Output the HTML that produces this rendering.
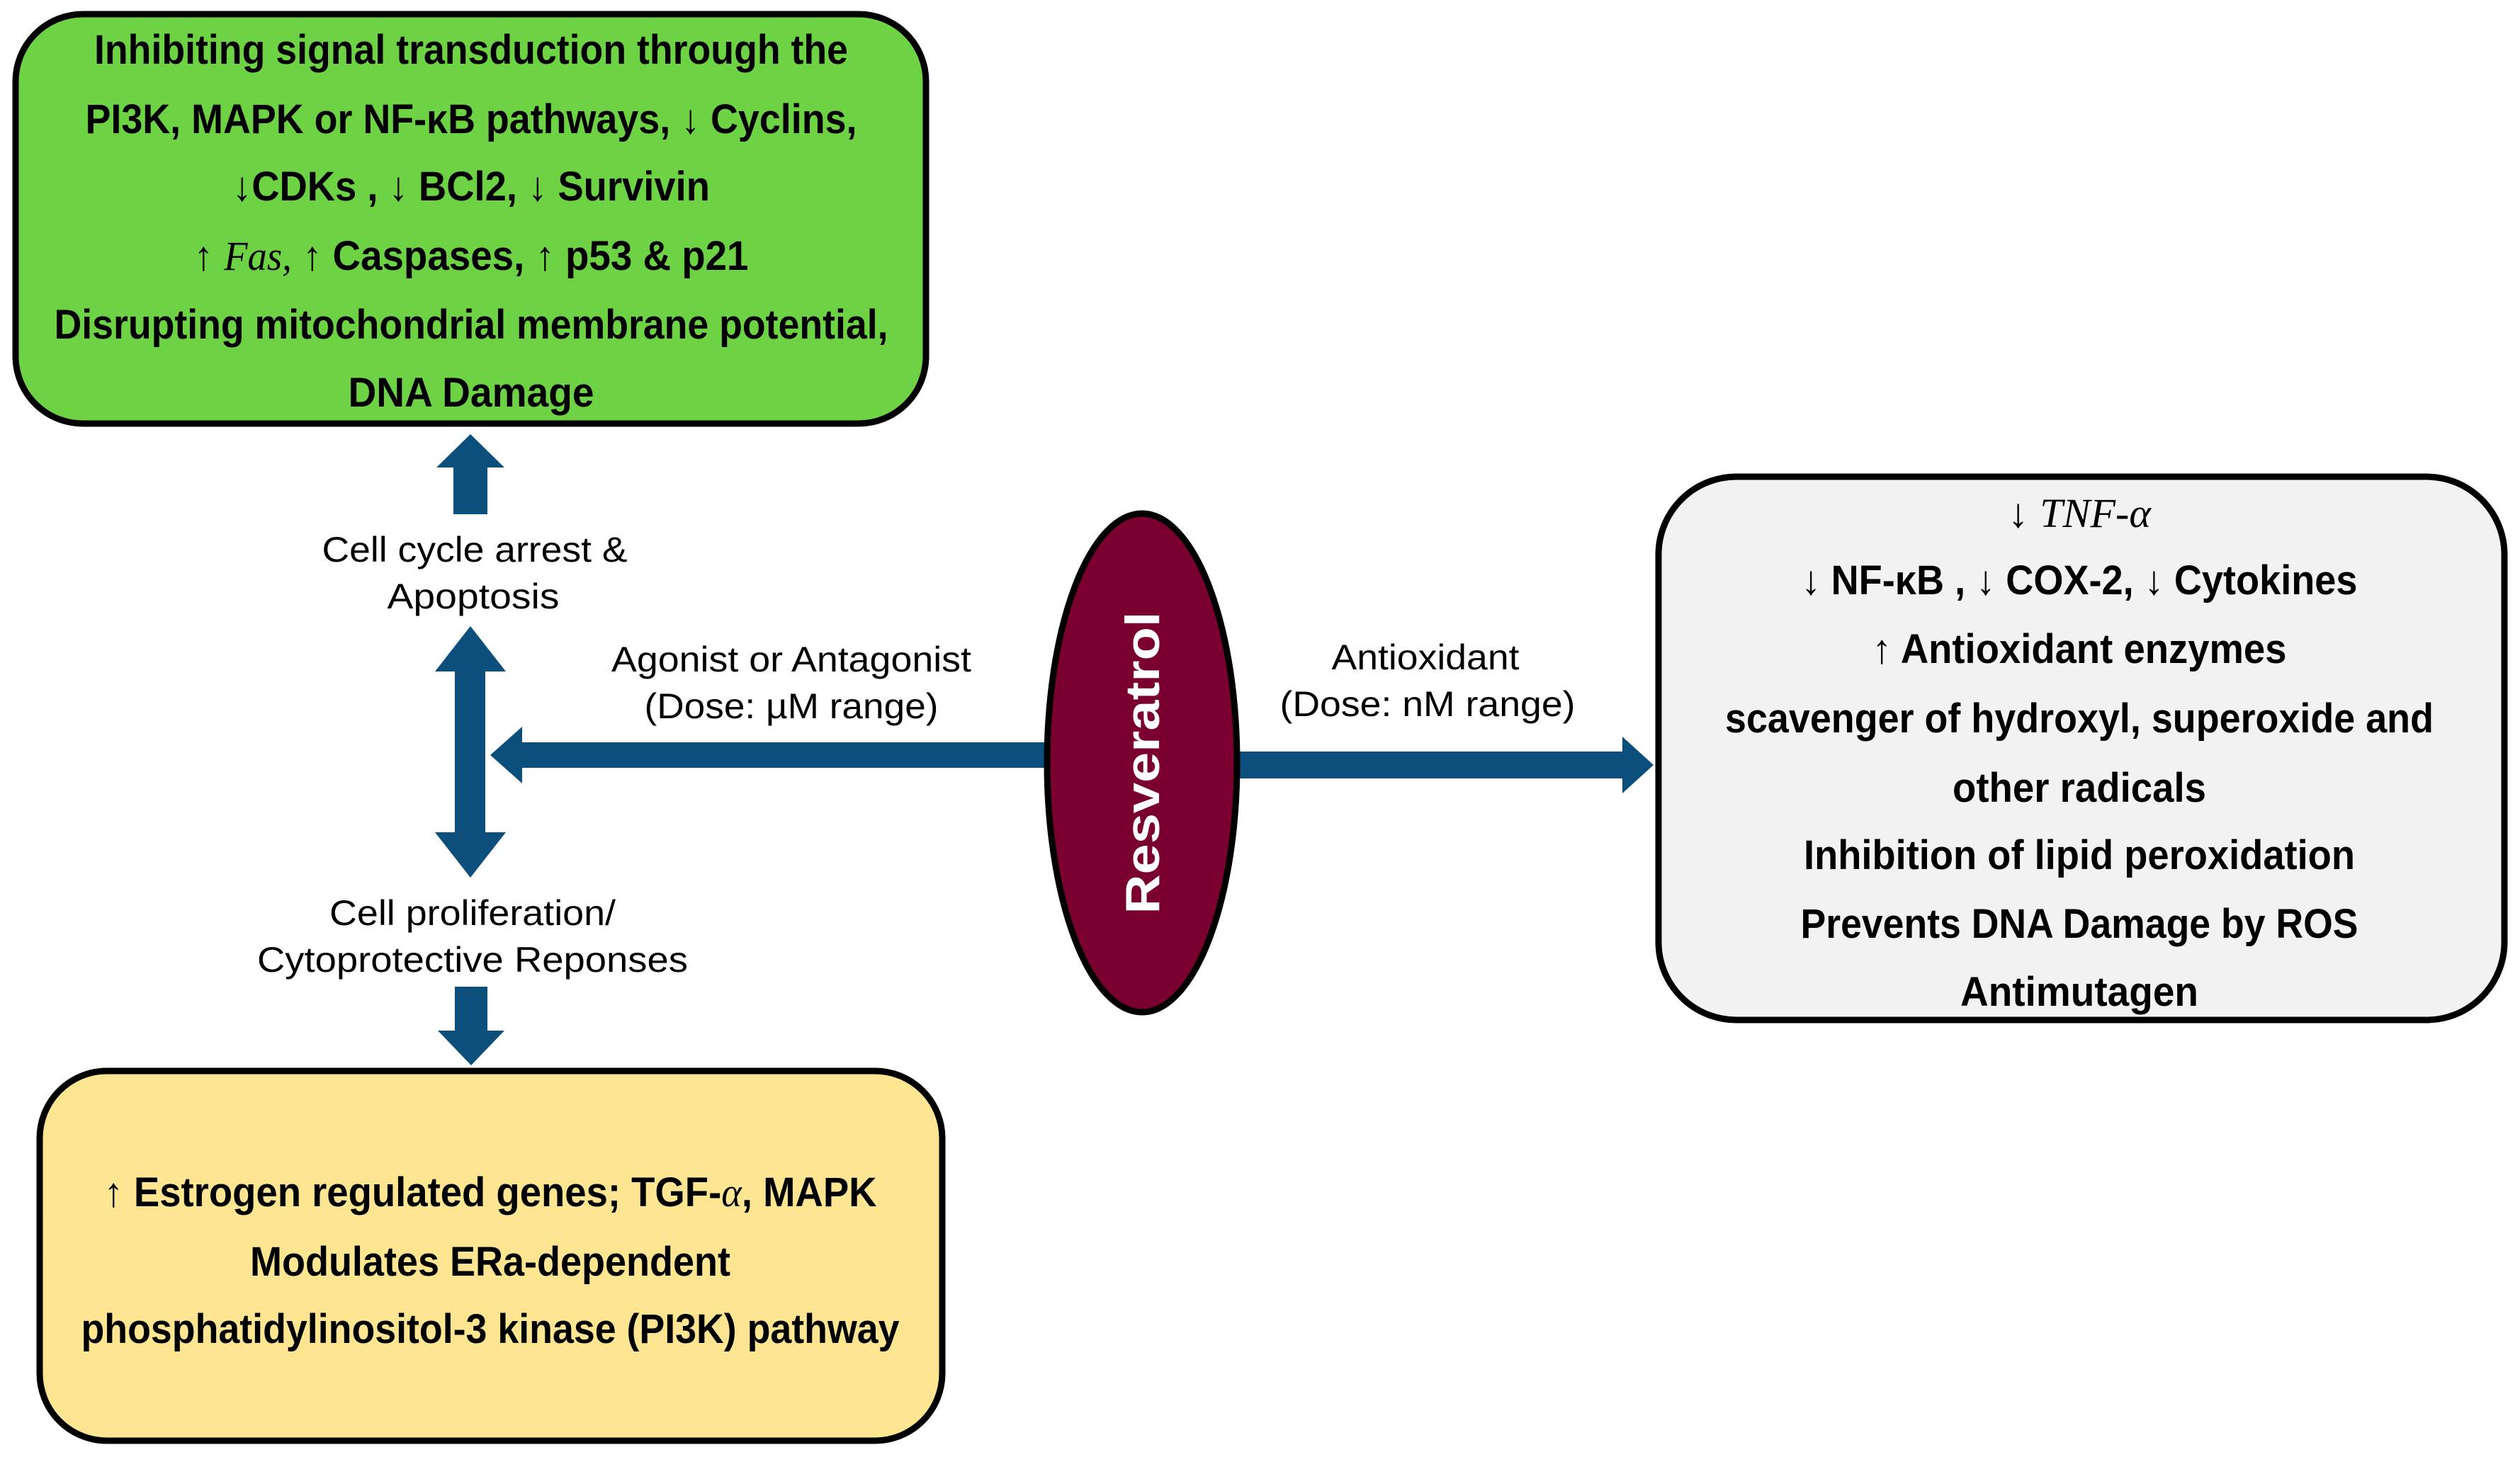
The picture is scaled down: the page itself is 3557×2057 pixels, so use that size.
<!DOCTYPE html>
<html><head><meta charset="utf-8"><style>html,body{margin:0;padding:0;background:#fff}svg{display:block}</style></head>
<body>
<svg width="3557" height="2057" viewBox="0 0 3557 2057" xmlns="http://www.w3.org/2000/svg" font-family="Liberation Sans, sans-serif">
<rect x="22" y="20" width="1285" height="578" rx="95" fill="#6dd344" stroke="#000" stroke-width="9"/>
<rect x="56" y="1512" width="1274" height="522" rx="95" fill="#fde592" stroke="#000" stroke-width="9"/>
<rect x="2341" y="673" width="1194" height="767" rx="110" fill="#f2f2f2" stroke="#000" stroke-width="9"/>
<g fill="#0d4f7c">
<polygon points="640,726 688,726 688,660 712,660 664,613 616,660 640,660"/>
<polygon points="664,884 714,948 685,948 685,1175 714,1175 664,1239 614,1175 642,1175 642,948 614,948"/>
<polygon points="642,1393 688,1393 688,1455 712,1455 665,1504 618,1455 642,1455"/>
<polygon points="692,1066 737,1026 737,1048 1485,1048 1485,1084 737,1084 737,1106"/>
<polygon points="1740,1061 2290,1061 2290,1040 2334,1080 2290,1120 2290,1099 1740,1099"/>
</g>
<ellipse cx="1612" cy="1077" rx="134" ry="352" fill="#7a0030" stroke="#000" stroke-width="9"/>
<text transform="translate(1636,1077) rotate(-90)" text-anchor="middle" font-weight="bold" font-size="68" fill="#fff" textLength="427" lengthAdjust="spacingAndGlyphs">Resveratrol</text>
<g font-weight="bold" font-size="58" text-anchor="middle" fill="#000">
<text x="665" y="90" textLength="1064" lengthAdjust="spacingAndGlyphs">Inhibiting signal transduction through the</text>
<text x="665" y="188" textLength="1089" lengthAdjust="spacingAndGlyphs">PI3K, MAPK or NF-κB pathways, ↓ Cyclins,</text>
<text x="665" y="283" textLength="674" lengthAdjust="spacingAndGlyphs">↓CDKs , ↓ BCl2, ↓ Survivin</text>
<text x="665" y="381" textLength="783" lengthAdjust="spacingAndGlyphs">↑ <tspan font-family="Liberation Serif, serif" font-style="italic" font-weight="normal">Fas,</tspan> ↑ Caspases, ↑ p53 &amp; p21</text>
<text x="665" y="478" textLength="1177" lengthAdjust="spacingAndGlyphs">Disrupting mitochondrial membrane potential,</text>
<text x="665" y="574" textLength="347" lengthAdjust="spacingAndGlyphs">DNA Damage</text>

<text x="2935" y="744" textLength="202" lengthAdjust="spacingAndGlyphs">↓ <tspan font-family="Liberation Serif, serif" font-style="italic" font-weight="normal">TNF-α</tspan></text>
<text x="2935" y="839" textLength="785" lengthAdjust="spacingAndGlyphs">↓ NF-κB , ↓ COX-2, ↓ Cytokines</text>
<text x="2935" y="936" textLength="585" lengthAdjust="spacingAndGlyphs">↑ Antioxidant enzymes</text>
<text x="2935" y="1034" textLength="1000" lengthAdjust="spacingAndGlyphs">scavenger of hydroxyl, superoxide and</text>
<text x="2935" y="1132" textLength="358" lengthAdjust="spacingAndGlyphs">other radicals</text>
<text x="2935" y="1227" textLength="778" lengthAdjust="spacingAndGlyphs">Inhibition of lipid peroxidation</text>
<text x="2935" y="1324" textLength="787" lengthAdjust="spacingAndGlyphs">Prevents DNA Damage by ROS</text>
<text x="2935" y="1420" textLength="336" lengthAdjust="spacingAndGlyphs">Antimutagen</text>

<text x="692" y="1703" textLength="1091" lengthAdjust="spacingAndGlyphs">↑ Estrogen regulated genes; TGF-<tspan font-family="Liberation Serif, serif" font-style="italic" font-weight="normal">α</tspan>, MAPK</text>
<text x="692" y="1801" textLength="678" lengthAdjust="spacingAndGlyphs">Modulates ERa-dependent</text>
<text x="692" y="1896" textLength="1155" lengthAdjust="spacingAndGlyphs">phosphatidylinositol-3 kinase (PI3K) pathway</text>
</g>
<g font-size="50" text-anchor="middle" fill="#000">
<text x="670" y="793" textLength="431" lengthAdjust="spacingAndGlyphs">Cell cycle arrest &amp;</text>
<text x="668" y="859" textLength="243" lengthAdjust="spacingAndGlyphs">Apoptosis</text>
<text x="1117" y="948" textLength="508" lengthAdjust="spacingAndGlyphs">Agonist or Antagonist</text>
<text x="1117" y="1014" textLength="415" lengthAdjust="spacingAndGlyphs">(Dose: µM range)</text>
<text x="2012" y="945" textLength="265" lengthAdjust="spacingAndGlyphs">Antioxidant</text>
<text x="2015" y="1011" textLength="417" lengthAdjust="spacingAndGlyphs">(Dose: nM range)</text>
<text x="667" y="1306" textLength="404" lengthAdjust="spacingAndGlyphs">Cell proliferation/</text>
<text x="667" y="1372" textLength="608" lengthAdjust="spacingAndGlyphs">Cytoprotective Reponses</text>
</g>
</svg>
</body></html>
